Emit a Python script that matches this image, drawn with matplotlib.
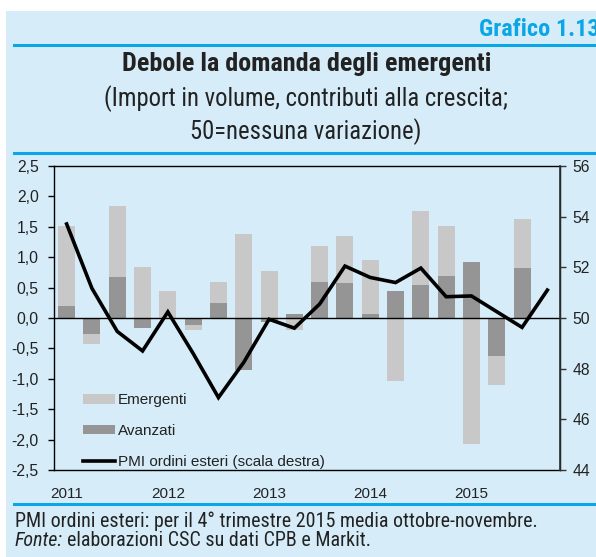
import matplotlib
matplotlib.use("Agg")
import matplotlib.pyplot as plt
import matplotlib.font_manager as fm
from matplotlib.font_manager import FontProperties
from matplotlib.patches import Patch, Rectangle
from matplotlib.lines import Line2D
from matplotlib.ticker import FuncFormatter

# ---------------- data ----------------
quarters = ["2011Q1", "2011Q2", "2011Q3", "2011Q4",
            "2012Q1", "2012Q2", "2012Q3", "2012Q4",
            "2013Q1", "2013Q2", "2013Q3", "2013Q4",
            "2014Q1", "2014Q2", "2014Q3", "2014Q4",
            "2015Q1", "2015Q2", "2015Q3", "2015Q4"]
emergenti = [1.33, -0.17, 1.17, 0.84, 0.45, -0.08, 0.35, 1.38, 0.78, -0.19,
             0.58, 0.77, 0.89, -1.04, 1.215, 0.835, -2.08, -0.48, 0.81]
avanzati = [0.19, -0.26, 0.68, -0.16, 0.0, -0.115, 0.25, -0.855, -0.07, 0.07,
            0.60, 0.58, 0.07, 0.44, 0.55, 0.685, 0.915, -0.63, 0.82]
pmi = [53.71, 51.17, 49.47, 48.70, 50.24, 48.60, 46.86, 48.25, 49.95, 49.60,
       50.55, 52.05, 51.60, 51.40, 51.97, 50.84, 50.87, 50.25, 49.63, 51.10]
year_labels = ["2011", "2012", "2013", "2014", "2015"]
left_ticks = [-2.5, -2.0, -1.5, -1.0, -0.5, 0.0, 0.5, 1.0, 1.5, 2.0, 2.5]
right_ticks = [44, 46, 48, 50, 52, 54, 56]

title = "Debole la domanda degli emergenti"
subtitle1 = "(Import in volume, contributi alla crescita;"
subtitle2 = "50=nessuna variazione)"
label_graf = "Grafico 1.13"
note1 = "PMI ordini esteri: per il 4° trimestre 2015 media ottobre-novembre."
note2a = "Fonte:"
note2b = "elaborazioni CSC su dati CPB e Markit."
legend_labels = ["Emergenti", "Avanzati", "PMI ordini esteri (scala destra)"]

# ---------------- fonts ----------------
names = {f.name for f in fm.fontManager.ttflist}
REG = "Liberation Sans" if "Liberation Sans" in names else "DejaVu Sans"
plt.rcParams["font.family"] = [REG, "DejaVu Sans"]


def _is_cond(f):
    st = str(f.stretch).lower()
    nm = f.name.lower()
    return ("condensed" in st) or ("narrow" in nm) or ("condensed" in nm)


_cands = [f for f in fm.fontManager.ttflist if _is_cond(f)]
_pref = ["Liberation Sans Narrow", "Roboto Condensed", "Noto Sans", "Open Sans",
         "Noto Sans Condensed", "DejaVu Sans Condensed", "DejaVu Sans"]


def _wnum(w):
    if isinstance(w, int):
        return w
    return {"bold": 700, "normal": 400, "regular": 400, "medium": 500,
            "semibold": 600, "light": 300}.get(str(w).lower(), 400)


def cond_font(bold=False, italic=False):
    best = None
    best_score = None
    for f in _cands:
        try:
            rank = _pref.index(f.name)
        except ValueError:
            rank = len(_pref)
        score = rank * 10
        score += abs(_wnum(f.weight) - (700 if bold else 400)) / 100.0
        is_it = str(f.style).lower() in ("italic", "oblique")
        score += 0 if is_it == italic else 5
        if "semi" in str(f.stretch).lower() or "extra" in str(f.stretch).lower():
            score += 1
        if best_score is None or score < best_score:
            best, best_score = f, score
    if best is None:
        return FontProperties(family=[REG, "DejaVu Sans"],
                              weight="bold" if bold else "normal",
                              style="italic" if italic else "normal")
    return FontProperties(fname=best.fname)


BG = "#d6edf9"
BLUE = "#0aa6e6"
LIGHT = "#c8c8c8"
DARK = "#959595"
TXT = "#222222"

W, H = 596, 557
fig = plt.figure(figsize=(W / 100, H / 100), dpi=100)
fig.patch.set_facecolor("white")


def fx(x):
    return x / W


def fy(y):
    return 1 - y / H


# background panel
fig.patches.append(Rectangle((fx(6), 0), 1 - fx(6), fy(11), transform=fig.transFigure,
                             facecolor=BG, edgecolor="none", zorder=-10))
for yy in (45, 153, 504):
    fig.lines.append(Line2D([fx(14), 1], [fy(yy), fy(yy)], transform=fig.transFigure,
                            color=BLUE, lw=2.2, zorder=-5))

renderer = fig.canvas.get_renderer()


def fit_text(x, y, s, target_w, fp, **kw):
    fp = fp.copy()
    fp.set_size(14)
    t = fig.text(fx(x), fy(y), s, fontproperties=fp, **kw)
    w = t.get_window_extent(renderer).width
    t.set_fontsize(14 * target_w / w)
    return t


fb = cond_font(bold=True)
fr = cond_font()
fi = cond_font(italic=True)

fit_text(479, 35.5, label_graf, 121, fb, ha="left", va="baseline", color=BLUE)
fit_text(307, 71, title, 372, fb, ha="center", va="baseline", color=TXT)
t1 = fit_text(306, 106, subtitle1, 406, fr, ha="center", va="baseline", color=TXT)
fr2 = fr.copy()
fr2.set_size(t1.get_fontsize())
fig.text(fx(305.5), fy(139), subtitle2, ha="center", va="baseline",
         fontproperties=fr2, color=TXT)

n1 = fit_text(15, 527, note1, 528, fr, ha="left", va="baseline", color=TXT)
fsn = n1.get_fontsize()
fi2 = fi.copy()
fi2.set_size(fsn)
fr3 = fr.copy()
fr3.set_size(fsn)
n2 = fig.text(fx(15), fy(546), note2a, ha="left", va="baseline",
              fontproperties=fi2, color=TXT)
ext = n2.get_window_extent(renderer)
fig.text(ext.x1 / W + fx(4), fy(546), note2b, ha="left", va="baseline",
         fontproperties=fr3, color=TXT)

# ---------------- axes ----------------
ax = fig.add_axes([fx(54), fy(470), (560 - 54) / W, (470 - 166) / H])
ax.set_facecolor("none")
n = len(emergenti)
xb = list(range(n))
bw = 0.67

# stacking: avanzati from zero, emergenti stacked on same sign
em_bottom = [a if (a * e > 0) else 0.0 for a, e in zip(avanzati, emergenti)]
ax.bar(xb, avanzati, width=bw, color=DARK, edgecolor="none", zorder=2)
ax.bar(xb, emergenti, width=bw, bottom=em_bottom, color=LIGHT, edgecolor="none", zorder=2)
ax.axhline(0, color="black", lw=1.0, zorder=3)

ax.set_xlim(-0.5, len(pmi) - 0.5)
ax.set_ylim(-2.5, 2.5)
ax.set_yticks(left_ticks)
ax.yaxis.set_major_formatter(FuncFormatter(lambda v, p: f"{v:.1f}".replace(".", ",")))
ax.set_xticks([0, 4, 8, 12, 16])
ax.set_xticklabels(year_labels)
ax.tick_params(axis="x", length=0, pad=12, labelsize=11, labelcolor=TXT)
ax.tick_params(axis="y", length=4, width=1, direction="out", pad=7, labelsize=11.3,
               labelcolor=TXT, color="black")
for s in ax.spines.values():
    s.set_color("black")
    s.set_linewidth(1.0)

ax2 = ax.twinx()
ax2.plot(range(len(pmi)), pmi, color="black", lw=2.6, solid_joinstyle="miter", zorder=4)
ax2.set_ylim(44, 56)
ax2.set_yticks(right_ticks)
ax2.tick_params(axis="y", length=4.5, width=1, direction="out", pad=4.5, labelsize=11.3,
                labelcolor=TXT, color="#333333")
for s in ax2.spines.values():
    s.set_visible(False)
ax2.spines["right"].set_visible(True)
ax2.spines["right"].set_color("#333333")
ax2.spines["right"].set_linewidth(1.2)

handles = [Patch(facecolor=LIGHT, edgecolor="none"),
           Patch(facecolor=DARK, edgecolor="none"),
           Line2D([0], [0], color="black", lw=2.6)]
leg = ax2.legend(handles, legend_labels, loc="lower left",
                 bbox_to_anchor=((83 - 54) / 506, (470 - 469) / 304),
                 frameon=False, fontsize=11, handlelength=2.1, handleheight=0.55,
                 handletextpad=0.2, labelspacing=1.1, borderpad=0, borderaxespad=0)
for t in leg.get_texts():
    t.set_color(TXT)

fig.savefig("out.png", dpi=100, facecolor=fig.get_facecolor())
